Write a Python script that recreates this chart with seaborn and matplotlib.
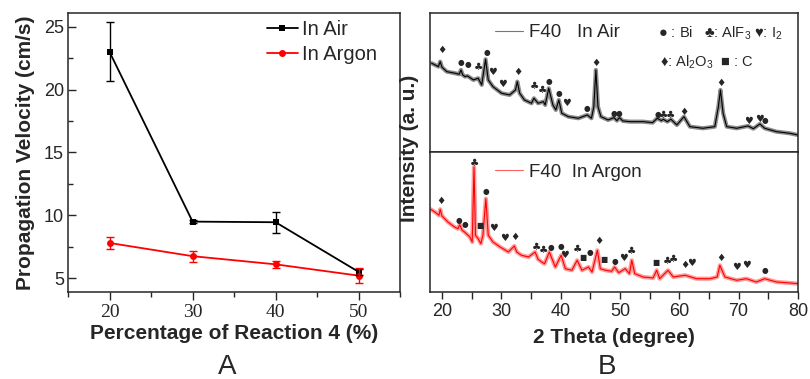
import numpy as np
import pandas as pd
import seaborn as sns
import matplotlib.pyplot as plt
from matplotlib.ticker import MultipleLocator
from matplotlib.lines import Line2D

# ---- panel A: propagation velocity ----
reaction_pct = [20, 30, 40, 50]
v_air = [23.0, 9.5, 9.45, 5.5]
v_air_err = [2.35, 0.15, 0.85, 0.25]
v_argon = [7.8, 6.75, 6.1, 5.2]
v_argon_err = [0.5, 0.45, 0.3, 0.6]

# ---- panel B: XRD patterns (intensity in a.u.) ----
air_2theta = [18.25, 19.4, 19.7, 20.0, 20.8, 22.2, 22.9, 23.2, 23.5, 23.9, 24.3, 25.3, 26.1, 26.7,
              27.35, 27.8, 28.6, 30.05, 31.4, 32.4, 32.7, 33.1, 33.9, 35.1, 35.5, 36.2, 37.1, 37.4,
              38.0, 38.7, 39.2, 39.7, 40.2, 41.3, 43.0, 44.5, 45.2, 45.6, 45.95, 46.3, 46.8, 48.0,
              49.0, 49.5, 49.9, 50.5, 51.7, 53.9, 55.5, 56.3, 57.0, 57.3, 58.0, 58.6, 59.6, 60.8,
              61.8, 64.0, 66.0, 66.6, 66.95, 67.4, 68.0, 69.7, 71.6, 72.5, 73.6, 74.4, 76.4, 78.6, 80.0]
air_int = [88.7, 85.3, 90.3, 84.7, 80.3, 78.7, 77.7, 82.0, 77.0, 75.3, 76.0, 72.0, 73.7, 67.0,
           92.7, 72.0, 65.3, 58.7, 57.0, 62.0, 70.3, 58.7, 52.0, 48.7, 53.7, 48.7, 50.3, 47.0,
           63.7, 47.0, 42.0, 52.0, 38.7, 35.3, 33.7, 37.0, 33.7, 45.3, 82.0, 45.3, 35.3, 32.0,
           34.3, 31.3, 34.3, 31.0, 30.3, 30.3, 29.3, 33.7, 31.3, 32.7, 30.3, 32.7, 27.0, 35.3,
           25.3, 23.7, 25.3, 45.3, 62.0, 38.7, 25.3, 23.7, 26.0, 23.3, 28.0, 23.7, 20.3, 18.7, 17.0]

argon_2theta = [18.1, 18.8, 19.5, 19.7, 20.0, 21.0, 22.1, 22.7, 23.0, 23.4, 23.8, 24.7, 25.1, 25.4,
                25.65, 26.1, 26.55, 26.9, 27.4, 27.8, 28.6, 29.8, 31.2, 32.2, 32.6, 33.4, 34.6, 35.7,
                36.2, 36.8, 37.3, 38.1, 39.1, 40.1, 40.8, 41.9, 42.8, 43.6, 44.7, 45.3, 46.2, 46.7,
                47.6, 48.6, 49.1, 49.8, 50.9, 51.6, 52.0, 52.5, 53.9, 55.6, 56.2, 56.7, 58.1, 59.0,
                61.0, 62.9, 65.2, 66.4, 66.85, 67.7, 69.7, 71.3, 73.0, 74.4, 76.4, 78.1, 80.0]
argon_int = [82.7, 80.0, 76.7, 82.7, 76.0, 70.0, 65.0, 63.3, 67.3, 61.7, 60.0, 55.0, 50.0, 125.0,
             56.7, 53.3, 48.3, 56.7, 93.3, 56.7, 50.0, 45.0, 40.0, 46.0, 40.0, 36.7, 35.0, 40.0,
             32.7, 30.0, 28.3, 40.0, 25.0, 36.7, 23.3, 21.7, 31.7, 21.7, 25.0, 20.0, 41.7, 23.3,
             21.7, 20.7, 25.0, 19.3, 23.3, 18.3, 31.7, 18.3, 15.0, 14.0, 21.7, 13.3, 21.7, 15.0,
             16.7, 13.3, 13.3, 15.0, 26.7, 15.0, 11.7, 13.3, 10.0, 13.3, 10.0, 9.3, 8.3]

# phase markers: position and symbol
air_mark_x = [19.9, 23.2, 24.3, 26.2, 27.5, 28.5, 30.2, 32.8, 35.65, 36.9, 38.1, 39.7, 41.0, 44.5,
              46.0, 49.0, 49.9, 56.4, 57.3, 58.6, 60.8, 67.0, 71.6, 73.6, 74.5]
air_mark_y = [102, 89.7, 87, 84.7, 99.3, 79.7, 68, 79.7, 66, 62, 70.7, 58.3, 48.7, 43.7,
              89.3, 38.7, 38.7, 37, 36.7, 36.7, 40.3, 69.3, 31.3, 33.3, 31.3]
air_mark_sym = ['♦', '●', '●', '♣', '●', '♥', '♥', '♦', '♣', '♣', '●', '●', '♥', '●',
                '♦', '●', '●', '●', '♣', '♣', '♦', '♦', '♥', '♥', '●']

argon_mark_x = [19.8, 22.9, 23.9, 25.4, 26.4, 27.4, 28.7, 30.6, 32.3, 35.9, 37.1, 38.3, 40.1, 40.7,
                42.8, 43.7, 44.9, 46.4, 47.3, 49.1, 50.6, 52.0, 56.1, 58.0, 59.1, 61.0, 62.1,
                67.0, 69.7, 71.3, 74.4]
argon_mark_y = [90.7, 71.7, 67.7, 129.3, 66, 100.7, 64, 54, 54.7, 45.3, 42.3, 44.3, 45.3, 36.7,
                43.3, 34, 39.3, 50.7, 32, 30.7, 34.3, 40.7, 29, 31.3, 32.7, 26.7, 29.3,
                34, 25, 26.7, 21.7]
argon_mark_sym = ['♦', '●', '●', '♣', '■', '●', '♥', '♥', '♦', '♣', '♣', '●', '●', '♥',
                  '♣', '■', '●', '♦', '■', '●', '♥', '♣', '■', '♣', '♣', '♦', '♥',
                  '♦', '♥', '♥', '●']

sym_size = {'●': 5.5, '■': 5.5, '♦': 7.5, '♣': 7.5, '♥': 7}

sns.set_style("ticks")
plt.rcParams['font.family'] = ['Liberation Sans', 'DejaVu Sans']
plt.rcParams['axes.linewidth'] = 1.1
plt.rcParams['xtick.major.width'] = 1.0
plt.rcParams['ytick.major.width'] = 1.0
plt.rcParams['xtick.minor.width'] = 1.0
plt.rcParams['ytick.minor.width'] = 1.0

fig = plt.figure(figsize=(8.1, 3.79), dpi=100)

# ---------- A ----------
axA = fig.add_axes([0.084, 0.2296, 0.410, 0.7361])
df = pd.DataFrame({
    "pct": reaction_pct * 2,
    "v": v_air + v_argon,
    "series": ["In Air"] * 4 + ["In Argon"] * 4,
})
pal = {"In Air": "black", "In Argon": "red"}
sns.lineplot(data=df, x="pct", y="v", hue="series", style="series",
             markers={"In Air": "s", "In Argon": "o"}, dashes=False, palette=pal,
             markersize=5, markeredgewidth=0, lw=1.3, legend=False, ax=axA)
axA.errorbar(reaction_pct, v_air, yerr=v_air_err, fmt='none', ecolor='black',
             elinewidth=1, capsize=3, capthick=1)
axA.errorbar(reaction_pct, v_argon, yerr=v_argon_err, fmt='none', ecolor='red',
             elinewidth=1, capsize=3, capthick=1)

axA.set_xlim(15, 55)
axA.set_ylim(3.9, 26.1)
axA.set_xticks([20, 30, 40, 50])
axA.xaxis.set_minor_locator(MultipleLocator(5))
axA.yaxis.set_major_locator(MultipleLocator(5))
axA.yaxis.set_minor_locator(MultipleLocator(2.5))
axA.tick_params(axis='x', which='major', direction='out', length=6, pad=3,
                labelsize=14, labelfontfamily='Liberation Serif')
axA.tick_params(axis='x', which='minor', direction='out', length=3.5)
axA.tick_params(axis='y', which='major', direction='in', length=6, labelsize=13, pad=3)
axA.tick_params(axis='y', which='minor', direction='in', length=3.5)
axA.set_xlabel("Percentage of Reaction 4 (%)", fontsize=15, fontweight='bold', labelpad=2)
axA.set_ylabel("Propagation Velocity (cm/s)", fontsize=15, fontweight='bold', labelpad=6)

handles = [Line2D([], [], color='black', marker='s', ms=5, mew=0, lw=1.3),
           Line2D([], [], color='red', marker='o', ms=5, mew=0, lw=1.3)]
axA.legend(handles, ["In Air", "In Argon"], loc='upper left', bbox_to_anchor=(0.60, 0.975),
           frameon=False, fontsize=14.5, handlelength=1.5, handletextpad=0.2,
           labelspacing=0.3, borderpad=0, borderaxespad=0)

# ---------- B ----------
axT = fig.add_axes([0.531, 0.599, 0.454, 0.367])
axB = fig.add_axes([0.531, 0.2296, 0.454, 0.3694], sharex=axT)

sns.lineplot(x=air_2theta, y=air_int, ax=axT, color='#8c8c8c', lw=3.0, sort=False, estimator=None)
sns.lineplot(x=air_2theta, y=air_int, ax=axT, color='black', lw=0.8, sort=False, estimator=None)
sns.lineplot(x=argon_2theta, y=argon_int, ax=axB, color='#ff9a9a', lw=3.0, sort=False, estimator=None)
sns.lineplot(x=argon_2theta, y=argon_int, ax=axB, color='red', lw=0.8, sort=False, estimator=None)

for xx, yy, s in zip(air_mark_x, air_mark_y, air_mark_sym):
    axT.text(xx, yy, s, ha='center', va='center', fontsize=sym_size[s], family='DejaVu Sans')
for xx, yy, s in zip(argon_mark_x, argon_mark_y, argon_mark_sym):
    axB.text(xx, yy, s, ha='center', va='center', fontsize=sym_size[s], family='DejaVu Sans')

axT.set_xlim(18, 80)
axT.set_ylim(0, 139)
axB.set_ylim(0, 140)
axT.tick_params(axis='x', which='both', bottom=False, labelbottom=False)
axT.set_yticks([])
axB.set_yticks([])
axB.set_xticks(range(20, 81, 10))
axB.xaxis.set_minor_locator(MultipleLocator(5))
axB.tick_params(axis='x', which='major', direction='out', length=5, labelsize=13, pad=3)
axB.tick_params(axis='x', which='minor', direction='out', length=5)
axB.set_xlabel("2 Theta (degree)", fontsize=15, fontweight='bold', labelpad=6)
axT.set_xlabel("")

axT.legend([Line2D([], [], color='#777777', lw=0.8)], ["F40   In Air"], loc='center left',
           bbox_to_anchor=(0.177, 0.856), frameon=False, fontsize=13.5, handlelength=1.5,
           handletextpad=0.3, borderpad=0, borderaxespad=0)
axB.legend([Line2D([], [], color='#ff6060', lw=0.8)], ["F40  In Argon"], loc='center left',
           bbox_to_anchor=(0.177, 0.857), frameon=False, fontsize=13.5, handlelength=1.5,
           handletextpad=0.3, borderpad=0, borderaxespad=0)

axT.text(0.62, 0.856, "● : Bi   ♣: AlF$_\\mathregular{3}$ ♥: I$_\\mathregular{2}$",
         transform=axT.transAxes, ha='left', va='center', fontsize=10.5)
axT.text(0.625, 0.647, "♦: Al$_\\mathregular{2}$O$_\\mathregular{3}$  ■ : C",
         transform=axT.transAxes, ha='left', va='center', fontsize=10.5)

fig.text(0.506, 0.609, "Intensity (a. u.)", rotation=90, ha='center', va='center',
         fontsize=15, fontweight='bold')

fig.text(0.280, 0.032, "A", ha='center', va='center', fontsize=20)
fig.text(0.749, 0.032, "B", ha='center', va='center', fontsize=20)

fig.savefig("out.png", dpi=100)
